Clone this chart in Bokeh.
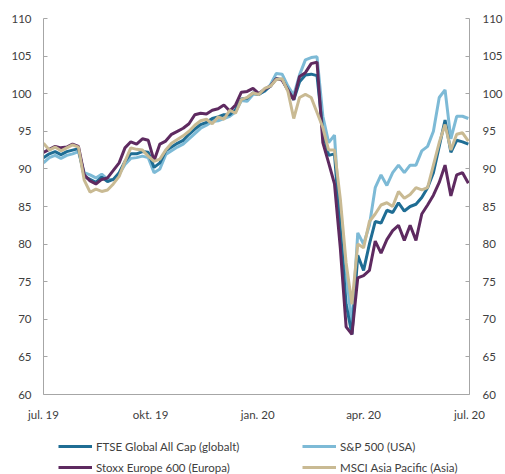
import datetime as dt
from bokeh.plotting import figure
from bokeh.layouts import column
from bokeh.models import Range1d, LinearAxis, FixedTicker, Legend, LegendItem
from bokeh.embed import file_html
from bokeh.resources import INLINE

# ---- data (index level; one point every 5 days) ----
start_date = dt.datetime(2019, 7, 1)
dates = [start_date + dt.timedelta(days=5 * i) for i in range(74)]

ftse = [91.5, 92.0, 92.3, 91.9, 92.3, 92.5, 92.7, 89.0, 88.6, 88.2,
        88.9, 88.3, 88.6, 89.5, 91.0, 92.0, 92.0, 92.3, 92.2, 90.2,
        90.8, 92.4, 92.9, 93.4, 93.8, 94.6, 95.3, 95.9, 96.2, 96.7,
        96.9, 97.2, 97.2, 97.9, 99.3, 99.4, 100.1, 99.9, 100.4, 101.0,
        102.0, 101.9, 100.5, 99.2, 101.6, 102.5, 102.6, 102.4, 95.0, 91.8,
        92.0, 82.0, 72.0, 68.0, 78.5, 76.5, 80.0, 83.0, 82.8, 84.5,
        84.2, 85.5, 84.4, 85.0, 85.3, 86.2, 87.5, 89.5, 93.0, 96.5,
        92.2, 93.8, 93.6, 93.3]

sp500 = [90.8, 91.5, 91.8, 91.4, 91.8, 92.0, 92.3, 89.5, 89.2, 88.8,
         89.3, 88.6, 88.6, 89.3, 90.6, 91.4, 91.5, 91.7, 91.5, 89.5,
         90.0, 91.9, 92.4, 92.9, 93.3, 94.0, 94.7, 95.4, 95.8, 96.3,
         96.4, 96.7, 97.0, 97.6, 99.1, 99.0, 99.9, 100.0, 100.3, 101.2,
         102.7, 102.6, 101.0, 99.8, 102.5, 104.5, 104.8, 104.9, 97.0, 93.5,
         94.5, 82.0, 76.5, 69.0, 81.5, 80.0, 82.5, 87.5, 89.2, 87.8,
         89.5, 90.5, 89.5, 90.5, 90.5, 92.4, 93.0, 95.0, 99.5, 100.5,
         94.0, 97.0, 97.0, 96.7]

stoxx = [92.2, 92.6, 93.0, 92.8, 92.9, 93.3, 93.0, 89.2, 88.4, 88.0,
         88.6, 88.8, 89.8, 90.8, 92.8, 93.6, 93.3, 94.0, 93.8, 91.1,
         93.3, 93.7, 94.6, 95.0, 95.4, 96.0, 97.2, 97.4, 97.3, 97.8,
         98.0, 98.5, 97.7, 98.5, 100.2, 100.3, 100.7, 100.0, 100.6, 101.0,
         102.0, 101.8, 100.5, 99.2, 102.3, 102.8, 104.0, 104.2, 93.5, 90.8,
         88.0, 79.5, 69.0, 68.0, 75.5, 75.8, 76.5, 80.4, 78.8, 80.6,
         81.8, 82.5, 80.5, 82.5, 80.5, 84.0, 85.2, 86.5, 88.2, 90.5,
         86.4, 89.2, 89.5, 88.1]

msci = [93.4, 92.5, 92.9, 92.4, 92.8, 93.2, 92.9, 88.5, 86.9, 87.3,
        87.0, 87.2, 88.0, 89.0, 91.0, 92.8, 92.6, 92.5, 91.7, 91.0,
        91.3, 92.5, 93.4, 93.9, 94.4, 95.0, 95.8, 96.4, 96.6, 96.0,
        96.9, 96.6, 97.8, 97.4, 99.2, 99.5, 100.1, 99.9, 100.7, 101.0,
        101.9, 102.0, 100.3, 96.7, 99.5, 99.9, 99.5, 97.5, 95.5, 92.5,
        92.5, 86.0, 77.5, 72.0, 80.0, 79.5, 83.0, 84.0, 85.2, 85.5,
        85.0, 87.0, 86.1, 86.6, 87.5, 87.2, 87.5, 90.5, 93.5, 95.9,
        92.5, 94.6, 94.8, 93.7]

series_names = ["FTSE Global All Cap (globalt)", "S&P 500 (USA)",
                "Stoxx Europe 600 (Europa)", "MSCI Asia Pacific (Asia)"]
series_colors = ["#1F6D94", "#7DBAD6", "#5E2A60", "#C9BA93"]

tick_dates = [dt.datetime(2019, 7, 1), dt.datetime(2019, 10, 1), dt.datetime(2020, 1, 1),
              dt.datetime(2020, 4, 1), dt.datetime(2020, 7, 1)]
tick_labels = ["jul. 19", "okt. 19", "jan. 20", "apr. 20", "jul. 20"]
y_ticks = [60, 65, 70, 75, 80, 85, 90, 95, 100, 105, 110]

# ---- figure ----
epoch = dt.datetime(1970, 1, 1)
def ms(d):
    return (d - epoch).total_seconds() * 1000.0

FONT = "Lato"
TXT = "#404040"
AXC = "#A6A6A6"
FS = "11.5px"

p = figure(width=505, height=425, x_axis_type="datetime",
           output_backend="svg", toolbar_location=None,
           x_range=Range1d(ms(tick_dates[0]), ms(tick_dates[-1])),
           y_range=Range1d(60, 110),
           min_border_left=43, min_border_right=36,
           min_border_top=18, min_border_bottom=31)
p.outline_line_color = None
p.xgrid.visible = False
p.ygrid.visible = False

xs = [ms(d) for d in dates]
r_sp = p.line(xs, sp500, line_color=series_colors[1], line_width=3)
r_ftse = p.line(xs, ftse, line_color=series_colors[0], line_width=3)
r_stoxx = p.line(xs, stoxx, line_color=series_colors[2], line_width=3)
r_msci = p.line(xs, msci, line_color=series_colors[3], line_width=3)

# x axis
xa = p.xaxis[0]
xa.ticker = FixedTicker(ticks=[ms(d) for d in tick_dates])
xa.major_label_overrides = {ms(d): lab for d, lab in zip(tick_dates, tick_labels)}
xa.major_tick_in = 0
xa.major_tick_out = 0
xa.minor_tick_line_color = None
xa.axis_line_color = AXC
xa.major_label_standoff = 13
xa.major_label_text_font = FONT
xa.major_label_text_font_size = FS
xa.major_label_text_color = TXT

# left axis
ya = p.yaxis[0]
ya.ticker = FixedTicker(ticks=y_ticks)
ya.major_tick_in = 4
ya.major_tick_out = 0
ya.minor_tick_line_color = None
ya.axis_line_color = AXC
ya.major_tick_line_color = AXC
ya.major_label_standoff = 12
ya.major_label_text_font = FONT
ya.major_label_text_font_size = FS
ya.major_label_text_color = TXT

# right axis
ra = LinearAxis(ticker=FixedTicker(ticks=y_ticks))
ra.major_tick_in = 4
ra.major_tick_out = 0
ra.minor_tick_line_color = None
ra.axis_line_color = AXC
ra.major_tick_line_color = AXC
ra.major_label_standoff = 13
ra.major_label_text_font = FONT
ra.major_label_text_font_size = FS
ra.major_label_text_color = TXT
p.add_layout(ra, "right")

# ---- legend strip below the chart (its frame is aligned with the chart's frame) ----
lp = figure(width=505, height=49, output_backend="svg", toolbar_location=None,
            x_axis_location=None, y_axis_location=None,
            min_border_left=43, min_border_right=36, min_border_top=0, min_border_bottom=0,
            x_range=Range1d(0, 1), y_range=Range1d(0, 1))
lp.outline_line_color = None
lp.xgrid.visible = False
lp.ygrid.visible = False

# legend key renderers, drawn outside the visible range
dummies = [lp.line([5, 6], [5, 6], line_color=c, line_width=3) for c in series_colors]

def make_legend(items, xoff):
    return Legend(items=items, location=(xoff, 0), orientation="vertical",
                  glyph_width=34, glyph_height=14, label_height=14,
                  label_standoff=4, spacing=7, padding=0, margin=0,
                  border_line_color=None, background_fill_alpha=0,
                  label_text_font=FONT, label_text_font_size=FS,
                  label_text_color=TXT)

leg1 = make_legend([LegendItem(label=series_names[0], renderers=[dummies[0]]),
                    LegendItem(label=series_names[2], renderers=[dummies[2]])], 15)
leg2 = make_legend([LegendItem(label=series_names[1], renderers=[dummies[1]]),
                    LegendItem(label=series_names[3], renderers=[dummies[3]])], 259)
lp.add_layout(leg1)
lp.add_layout(leg2)

layout = column(p, lp, spacing=0)
open("out.html", "w").write(file_html(layout, INLINE))
